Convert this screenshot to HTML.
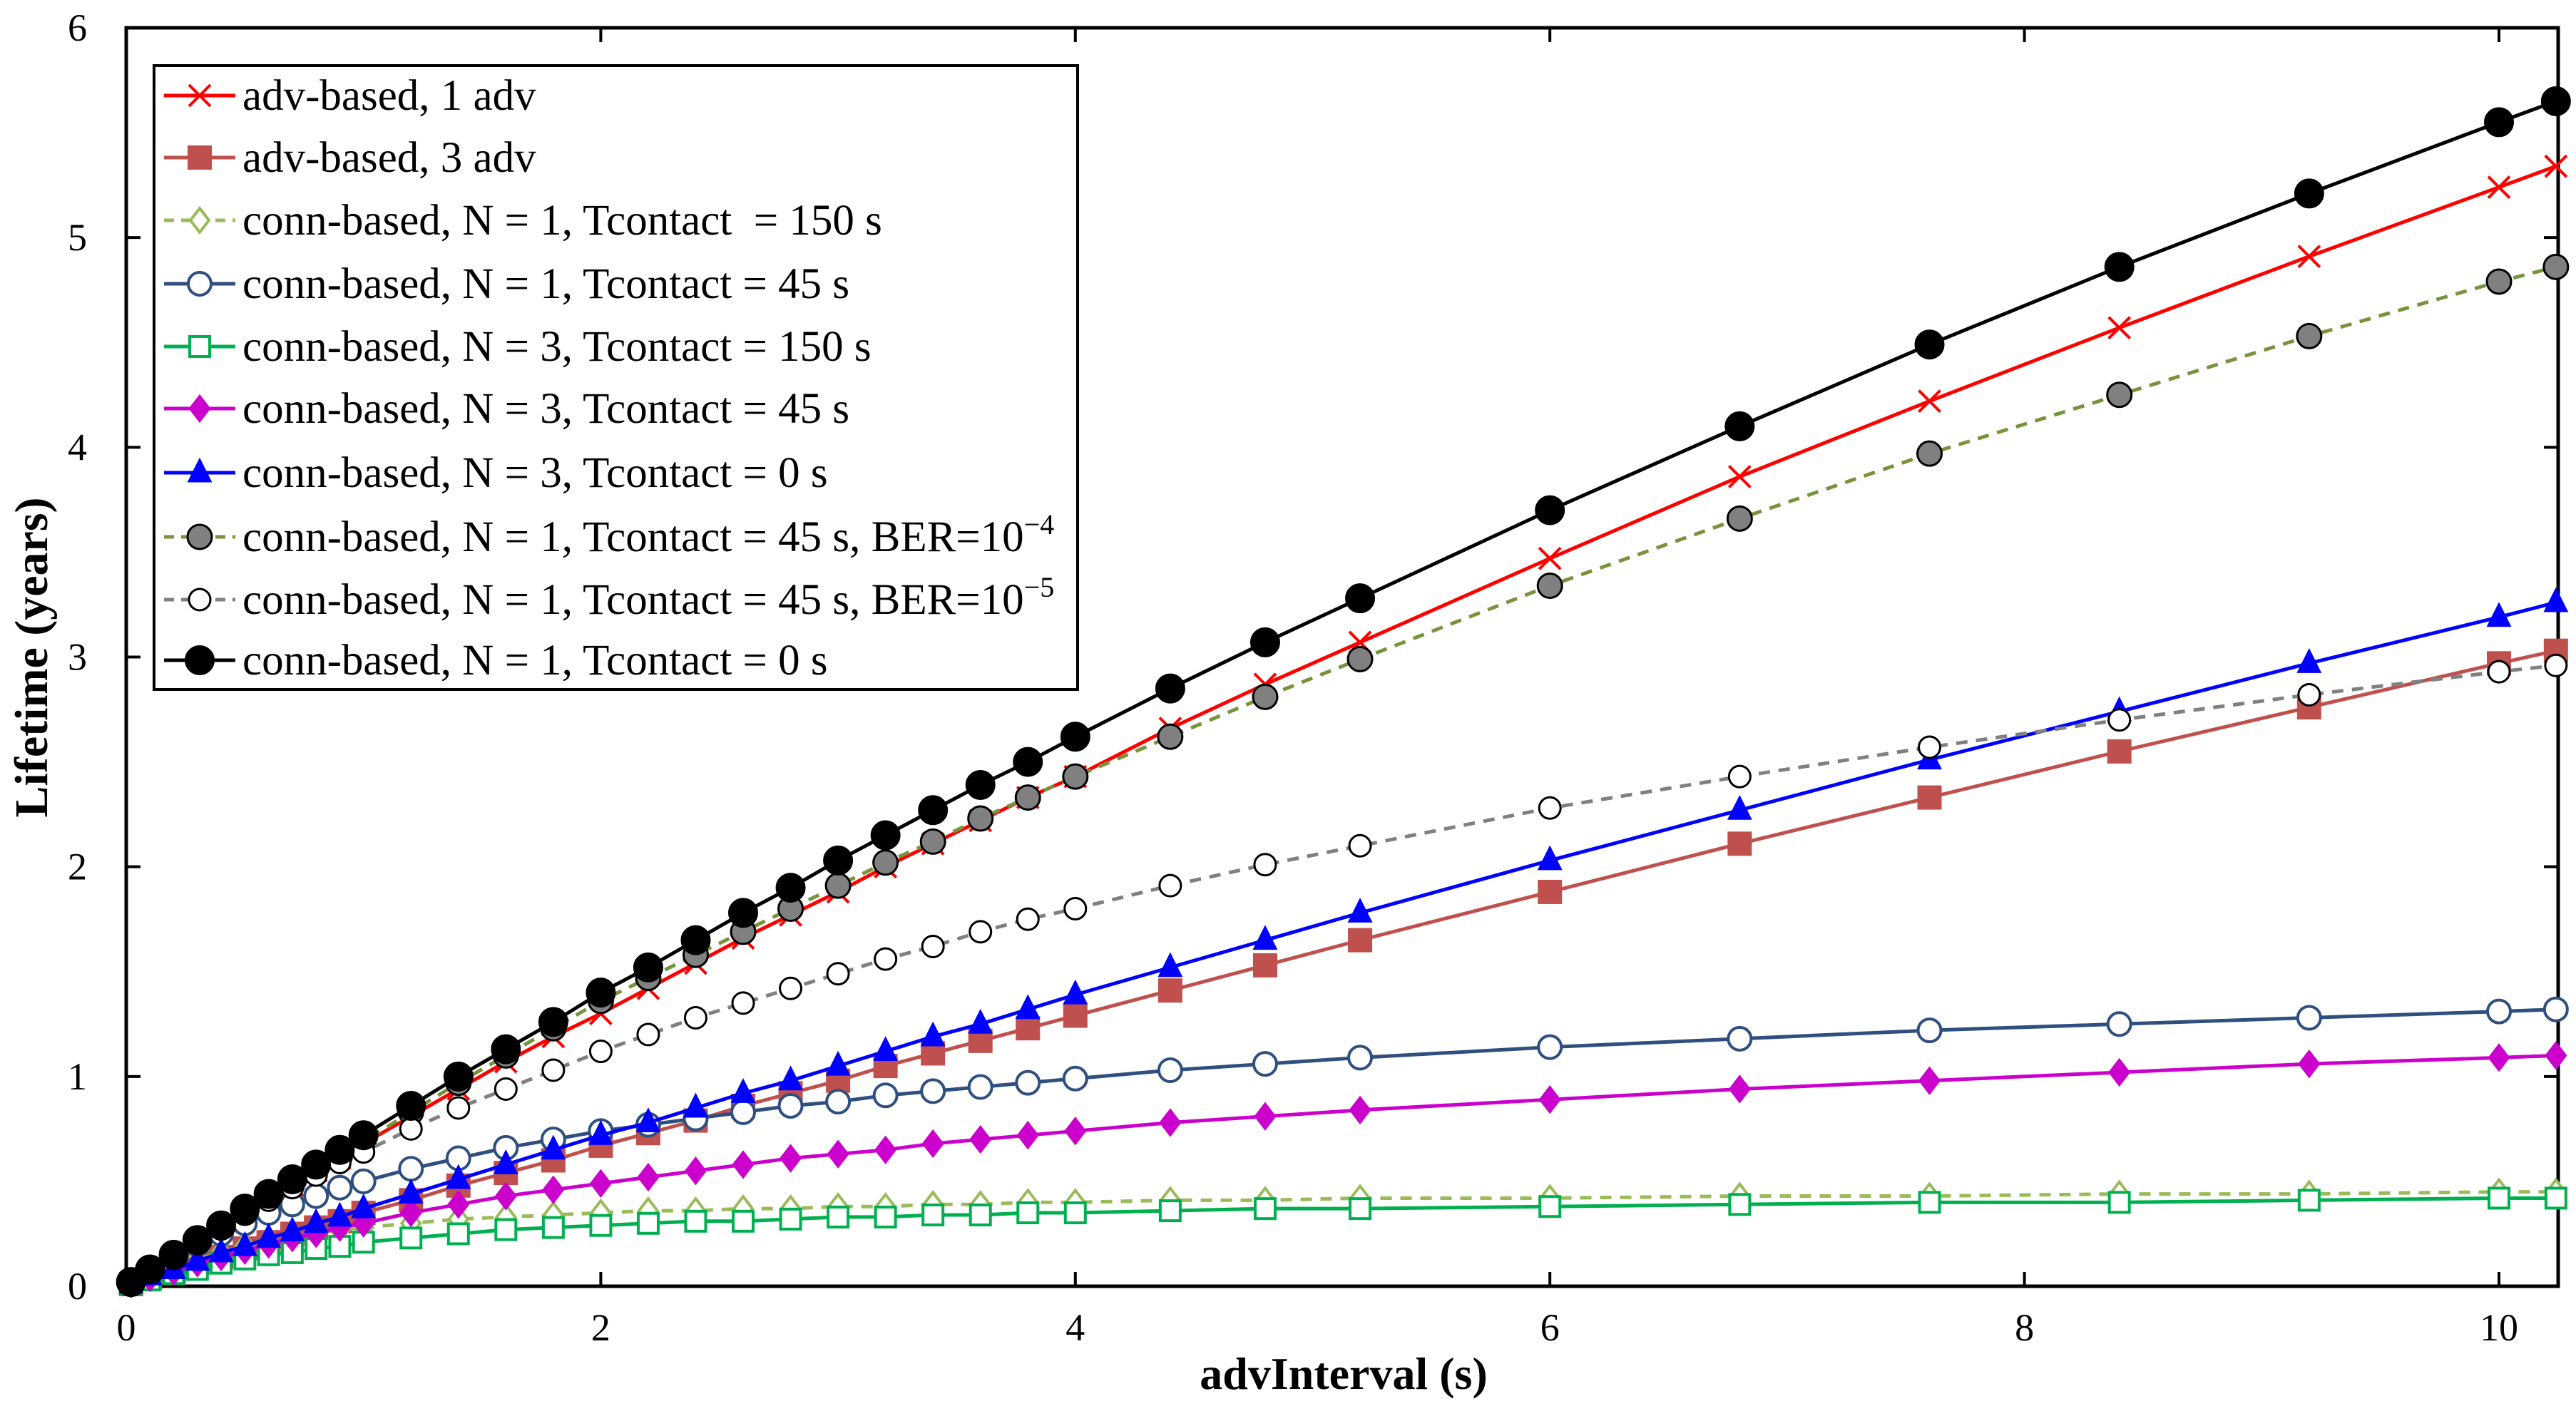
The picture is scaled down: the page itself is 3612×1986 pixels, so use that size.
<!DOCTYPE html>
<html><head><meta charset="utf-8"><style>
html,body{margin:0;padding:0;background:#fff;}
svg{display:block;font-family:"Liberation Serif",serif;}
text{white-space:pre;}
</style></head><body>
<svg id="chart" width="3612" height="1986" viewBox="0 0 3612 1986" xmlns="http://www.w3.org/2000/svg"></svg>
<script>
const xs=[0.02,0.1,0.2,0.3,0.4,0.5,0.6,0.7,0.8,0.9,1.0,1.2,1.4,1.6,1.8,2.0,2.2,2.4,2.6,2.8,3.0,3.2,3.4,3.6,3.8,4.0,4.4,4.8,5.2,6.0,6.8,7.6,8.4,9.2,10.0,10.24];
const advOne=[0.02,0.07,0.13,0.2,0.27,0.34,0.41,0.48,0.55,0.61,0.68,0.81,0.94,1.07,1.19,1.30,1.42,1.54,1.66,1.77,1.88,2.00,2.11,2.22,2.33,2.43,2.66,2.87,3.07,3.47,3.86,4.22,4.57,4.91,5.24,5.34];
const advThree=[0.01,0.04,0.07,0.11,0.14,0.18,0.21,0.25,0.28,0.31,0.35,0.41,0.48,0.54,0.60,0.67,0.73,0.79,0.86,0.92,0.98,1.05,1.11,1.17,1.23,1.29,1.41,1.53,1.65,1.88,2.11,2.33,2.55,2.76,2.97,3.03];
const connN1T150=[0.01,0.05,0.09,0.13,0.16,0.19,0.21,0.23,0.25,0.27,0.28,0.30,0.32,0.33,0.34,0.35,0.36,0.36,0.37,0.37,0.38,0.38,0.39,0.39,0.40,0.40,0.41,0.41,0.42,0.42,0.43,0.43,0.44,0.44,0.45,0.45];
const connN1T45=[0.02,0.07,0.14,0.20,0.25,0.30,0.35,0.39,0.43,0.47,0.50,0.56,0.61,0.66,0.70,0.74,0.77,0.80,0.83,0.86,0.88,0.91,0.93,0.95,0.97,0.99,1.03,1.06,1.09,1.14,1.18,1.22,1.25,1.28,1.31,1.32];
const connN3T150=[0.01,0.03,0.06,0.08,0.11,0.13,0.15,0.16,0.18,0.19,0.21,0.23,0.25,0.27,0.28,0.29,0.30,0.31,0.31,0.32,0.33,0.33,0.34,0.34,0.35,0.35,0.36,0.37,0.37,0.38,0.39,0.40,0.40,0.41,0.42,0.42];
const connN3T45=[0.01,0.04,0.07,0.11,0.14,0.17,0.20,0.23,0.25,0.28,0.30,0.35,0.39,0.43,0.46,0.49,0.52,0.55,0.58,0.61,0.63,0.65,0.68,0.70,0.72,0.74,0.78,0.81,0.84,0.89,0.94,0.98,1.02,1.06,1.09,1.10];
const connN3T0=[0.01,0.05,0.08,0.12,0.16,0.19,0.23,0.26,0.30,0.33,0.37,0.44,0.51,0.58,0.65,0.72,0.78,0.85,0.92,0.98,1.05,1.12,1.19,1.25,1.32,1.39,1.52,1.65,1.78,2.03,2.27,2.51,2.74,2.97,3.19,3.26];
const connBer4=[0.02,0.08,0.14,0.21,0.28,0.35,0.42,0.49,0.56,0.62,0.69,0.83,0.97,1.10,1.23,1.36,1.47,1.58,1.69,1.80,1.91,2.02,2.12,2.23,2.33,2.43,2.62,2.81,2.99,3.34,3.66,3.97,4.25,4.53,4.79,4.86];
const connBer5=[0.02,0.08,0.15,0.22,0.28,0.35,0.41,0.47,0.53,0.59,0.64,0.75,0.85,0.94,1.03,1.12,1.20,1.28,1.35,1.42,1.49,1.56,1.62,1.69,1.75,1.80,1.91,2.01,2.10,2.28,2.43,2.57,2.70,2.82,2.93,2.96];
const connN1T0=[0.02,0.08,0.15,0.22,0.29,0.37,0.44,0.51,0.58,0.65,0.72,0.86,1.00,1.13,1.26,1.40,1.52,1.65,1.78,1.90,2.03,2.15,2.27,2.39,2.50,2.62,2.85,3.07,3.28,3.70,4.10,4.49,4.86,5.21,5.55,5.65];
const xTicks=[0,2,4,6,8,10];
const yTicks=[0,1,2,3,4,5,6];

const NS="http://www.w3.org/2000/svg";
const svg=document.getElementById('chart');
const X0=177,X1=3587,Y0=1804,YT=39;
const PXU=(3504-177)/10, PYU=(1804-39)/6;
const sx=v=>X0+v*PXU, sy=v=>Y0-v*PYU;
function mk(tag,attrs,parent){const e=document.createElementNS(NS,tag);for(const k in attrs)e.setAttribute(k,attrs[k]);(parent||svg).appendChild(e);return e;}

const frame=mk('rect',{x:X0,y:YT,width:X1-X0,height:Y0-YT,fill:'none',stroke:'#000','stroke-width':5});


xTicks.forEach(t=>{
  const g=mk('g',{});
  
  
  mk('line',{x1:sx(t),x2:sx(t),y1:Y0,y2:Y0-20,stroke:'#000','stroke-width':4},g);
  mk('line',{x1:sx(t),x2:sx(t),y1:YT,y2:YT+20,stroke:'#000','stroke-width':4},g);
  const tx=mk('text',{x:sx(t),y:1880,'text-anchor':'middle','font-size':54},g);tx.textContent=t;
});
yTicks.forEach(t=>{
  const g=mk('g',{});
  
  
  mk('line',{x1:X0,x2:X0+20,y1:sy(t),y2:sy(t),stroke:'#000','stroke-width':4},g);
  mk('line',{x1:X1,x2:X1-20,y1:sy(t),y2:sy(t),stroke:'#000','stroke-width':4},g);
  const tx=mk('text',{x:122,y:sy(t)+18,'text-anchor':'end','font-size':54},g);tx.textContent=t;
});
const xt=mk('text',{x:1884,y:1948,'text-anchor':'middle','font-size':64,'font-weight':'bold'});
xt.textContent='advInterval (s)';


const yt=mk('text',{x:0,y:0,'text-anchor':'middle','font-size':66,'font-weight':'bold',transform:'translate(66,922) rotate(-90)'});
yt.textContent='Lifetime (years)';



function marker(type,cx,cy,s,parent){
  const r=s.r;
  if(type==='x'){mk('path',{d:`M${cx-r} ${cy-r}L${cx+r} ${cy+r}M${cx-r} ${cy+r}L${cx+r} ${cy-r}`,stroke:s.color,'stroke-width':4},parent);}
  else if(type==='sq'){mk('rect',{x:cx-r,y:cy-r,width:2*r,height:2*r,fill:s.fill,stroke:s.mstroke,'stroke-width':4},parent);}
  else if(type==='dia'){mk('path',{d:`M${cx} ${cy-r*1.3}L${cx+r} ${cy}L${cx} ${cy+r*1.3}L${cx-r} ${cy}Z`,fill:s.fill,stroke:s.mstroke,'stroke-width':4},parent);}
  else if(type==='tri'){mk('path',{d:`M${cx} ${cy-r*1.2}L${cx+r} ${cy+r*0.8}L${cx-r} ${cy+r*0.8}Z`,fill:s.fill,stroke:s.mstroke,'stroke-width':3},parent);}
  else {mk('circle',{cx:cx,cy:cy,r:r,fill:s.fill,stroke:s.mstroke,'stroke-width':s.msw||4},parent);}
}
const series=[
 {name:'adv-based-1-adv',label:'adv-based, 1 adv',data:advOne,color:'#ff0000',m:'x',r:15,fill:'none',mstroke:'#ff0000'},
 {name:'adv-based-3-adv',label:'adv-based, 3 adv',data:advThree,color:'#c0504d',m:'sq',r:15,fill:'#c0504d',mstroke:'#c0504d'},
 {name:'conn-n1-t150',label:'conn-based, N = 1, Tcontact  = 150 s',data:connN1T150,color:'#9bbb59',dash:'16 12',m:'dia',r:13,fill:'#fff',mstroke:'#9bbb59'},
 {name:'conn-n1-t45',label:'conn-based, N = 1, Tcontact = 45 s',data:connN1T45,color:'#2f4f7f',m:'c',r:16,fill:'#fff',mstroke:'#2f4f7f'},
 {name:'conn-n3-t150',label:'conn-based, N = 3, Tcontact = 150 s',data:connN3T150,color:'#00b050',m:'sq',r:14,fill:'#fff',mstroke:'#00b050'},
 {name:'conn-n3-t45',label:'conn-based, N = 3, Tcontact = 45 s',data:connN3T45,color:'#cc00cc',m:'dia',r:13,fill:'#cc00cc',mstroke:'#cc00cc'},
 {name:'conn-n3-t0',label:'conn-based, N = 3, Tcontact = 0 s',data:connN3T0,color:'#0000ff',m:'tri',r:15,fill:'#0000ff',mstroke:'#0000ff'},
 {name:'conn-n1-t45-ber4',label:'conn-based, N = 1, Tcontact = 45 s, BER=10',sup:'−4',data:connBer4,color:'#77933c',dash:'16 12',m:'c',r:17,fill:'#808080',mstroke:'#000',msw:3},
 {name:'conn-n1-t45-ber5',label:'conn-based, N = 1, Tcontact = 45 s, BER=10',sup:'−5',data:connBer5,color:'#808080',dash:'16 12',m:'c',r:15,fill:'#fff',mstroke:'#000',msw:3},
 {name:'conn-n1-t0',label:'conn-based, N = 1, Tcontact = 0 s',data:connN1T0,color:'#000',m:'c',r:19,fill:'#000',mstroke:'#000'}
];
series.forEach(s=>{
  const g=mk('g',{});
  
  
  const pts=xs.map((x,i)=>sx(x)+','+sy(s.data[i])).join(' ');
  const pl=mk('polyline',{points:pts,fill:'none',stroke:s.color,'stroke-width':5},g);
  if(s.dash)pl.setAttribute('stroke-dasharray',s.dash);
  xs.forEach((x,i)=>marker(s.m,sx(x),sy(s.data[i]),s,g));
});
const lg=mk('g',{});


mk('rect',{x:216,y:92,width:1295,height:875,fill:'#fff',stroke:'#000','stroke-width':4},lg);
const ly=[134,221,309,398,486,573,663,753,841,926];
series.forEach((s,i)=>{
  const e=mk('g',{},lg);
  
  
  const y=ly[i];
  const l=mk('line',{x1:230,x2:330,y1:y,y2:y,stroke:s.color,'stroke-width':5},e);
  if(s.dash)l.setAttribute('stroke-dasharray','14 10');
  marker(s.m,280,y,s,e);
  const t=mk('text',{x:340,y:y+20,'font-size':61},e);
  t.textContent=s.label;
  if(s.sup){const ts=mk('tspan',{dy:-24,'font-size':40},t);ts.textContent=s.sup;}
});
</script>
</body></html>
